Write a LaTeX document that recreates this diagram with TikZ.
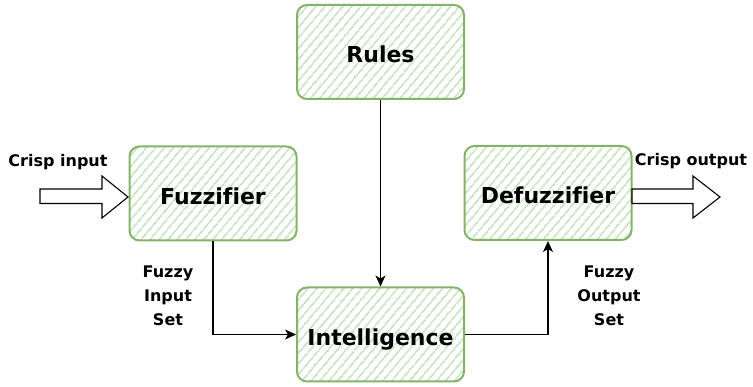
\documentclass[tikz,border=0pt]{standalone}
\usepackage{fontspec}
\setmainfont{DejaVu Sans}[Ligatures=NoCommon]
\usetikzlibrary{patterns.meta,arrows.meta,calc}
\definecolor{boxline}{HTML}{82B366}
\definecolor{hatch}{HTML}{C8E2C2}
\tikzset{
  box/.style={draw=boxline, line width=2pt, rounded corners=10pt,
    pattern={Lines[angle=50,distance=6.5pt,line width=1.8pt]}, pattern color=hatch,
    minimum width=167pt, minimum height=94pt, inner sep=0pt,
    text height=22pt, text depth=0pt,
    font=\fontsize{22}{24}\selectfont\bfseries},
  lbl/.style={font=\fontsize{16}{24}\selectfont\bfseries, align=center, inner sep=0pt},
  conn/.style={draw=black, line width=1.2pt, -{Stealth[length=11pt,width=10pt,inset=3pt]}},
  blockarrow/.style={draw=black, line width=1.1pt, fill=white, line join=miter}
}
\begin{document}
\begin{tikzpicture}[x=1pt,y=-1pt]
  \useasboundingbox (0,0) rectangle (753,387);
  % boxes
  \node[box] (rules)  at (380.5,52)   {Rules};
  \node[box] (fuzz)   at (213,193.5)  {Fuzzifier};
  \node[box] (intel)  at (380.5,334.5){Intelligence};
  \node[box] (defuzz) at (548,193)    {Defuzzifier};
  % labels
  \node[lbl, anchor=base] (cin)  at (58,167)  {Crisp input};
  \node[lbl, anchor=base] (cout) at (691,166) {Crisp output};
  \node[lbl] (fis) at (168,296) {Fuzzy\\Input\\Set};
  \node[lbl] (fos) at (609,296) {Fuzzy\\Output\\Set};
  % connectors
  \draw[conn] (rules.south) -- (intel.north);
  \draw[conn] (fuzz.south) |- (intel.west);
  \draw[conn] (intel.east) -| (defuzz.south);
  % block arrows
  \coordinate (inTip) at (128,197);
  \coordinate (outTip) at (720,197);
  \draw[blockarrow] (inTip) -- ++(-26,-21) -- ++(0,13) -- ++(-62,0) -- ++(0,14.5)
     -- ++(62,0) -- ++(0,14.5) -- cycle;
  \draw[blockarrow] (outTip) -- ++(-27,-21) -- ++(0,13) -- ++(-61,0) -- ++(0,14.5)
     -- ++(61,0) -- ++(0,14.5) -- cycle;
\end{tikzpicture}
\end{document}
